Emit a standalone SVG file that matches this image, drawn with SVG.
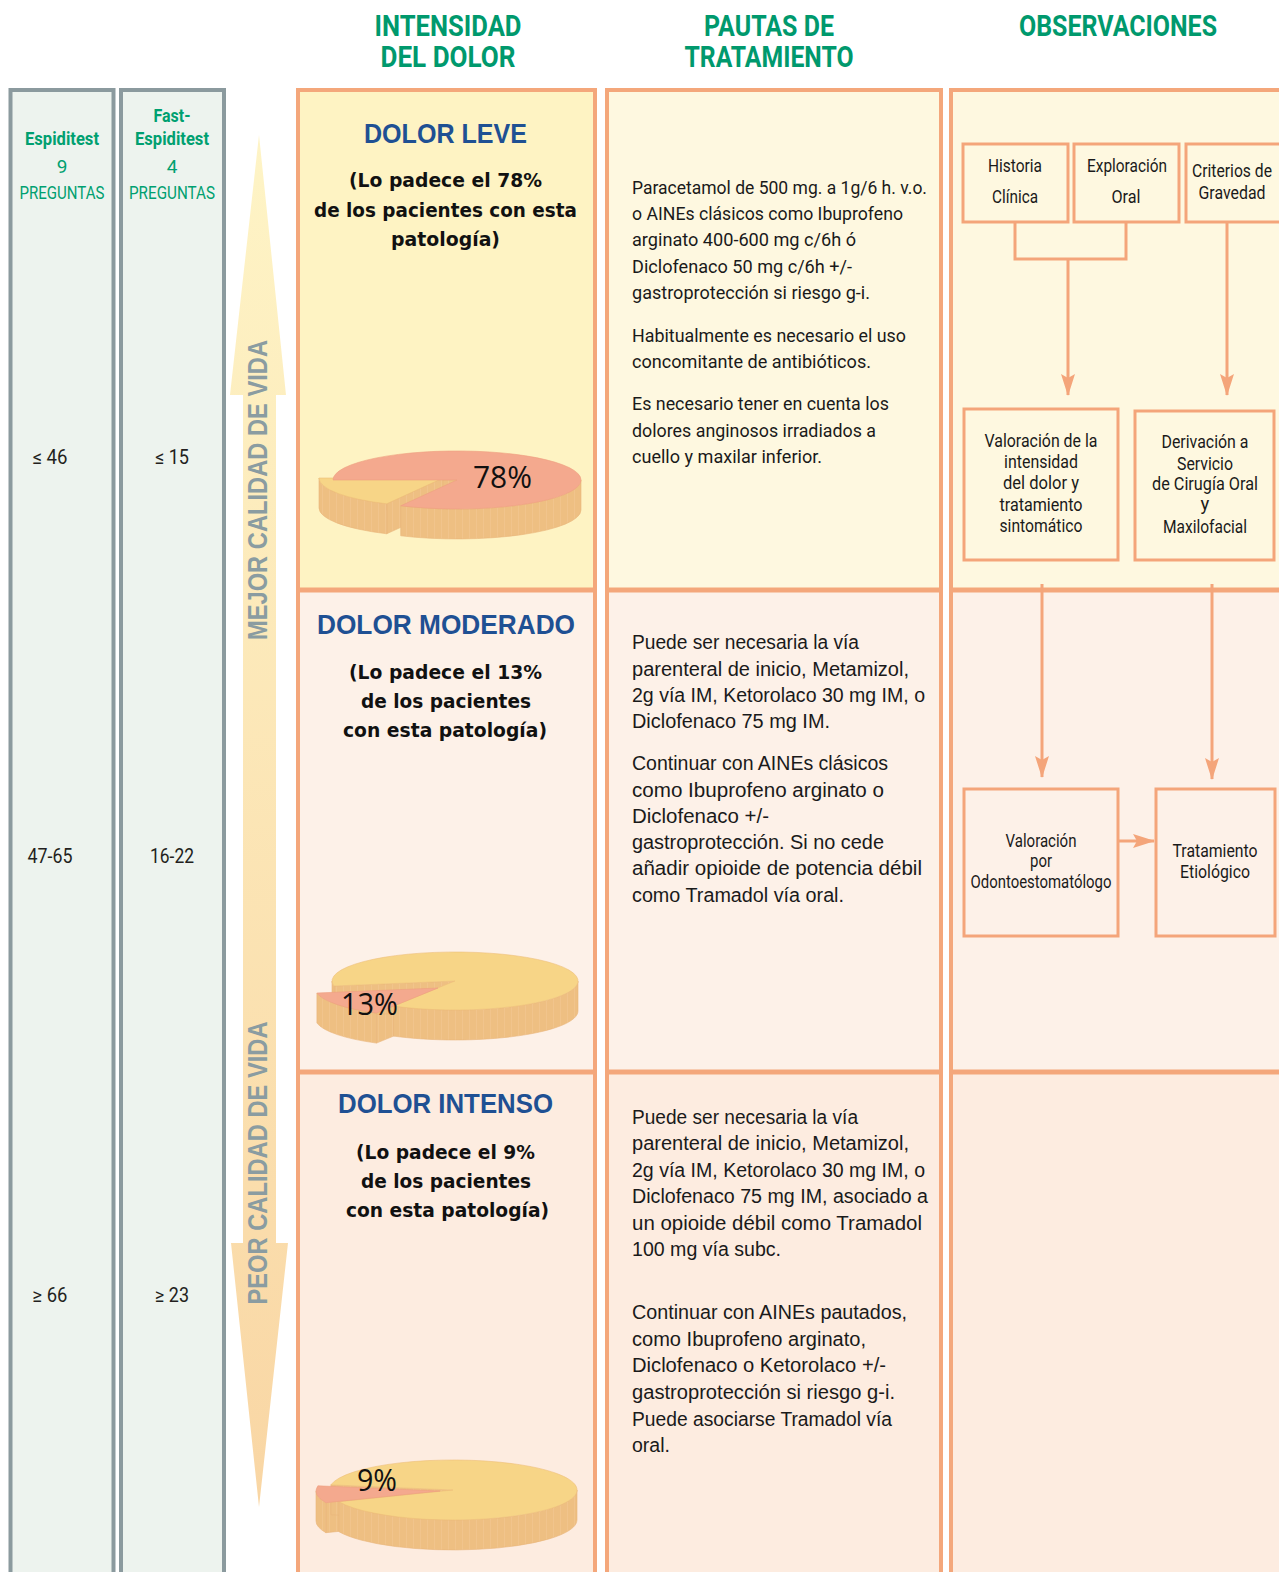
<svg xmlns="http://www.w3.org/2000/svg" width="1279" height="1572" viewBox="0 0 1279 1572">
  <defs>
    <linearGradient id="qolGrad" x1="0" y1="0" x2="0" y2="1">
      <stop offset="0" stop-color="#fef4c6"/>
      <stop offset="1" stop-color="#f9d6a4"/>
    </linearGradient>
    <pattern id="sideStripes" patternUnits="userSpaceOnUse" width="7" height="10">
      <rect width="7" height="10" fill="#eebf82"/>
      <rect x="0" width="1" height="10" fill="#f1c48c"/>
    </pattern>
    <marker id="head" viewBox="0 0 22 14" refX="21" refY="7" markerWidth="22" markerHeight="14" markerUnits="userSpaceOnUse" orient="auto">
      <path d="M0,0 L22,7 L0,14 L4,7 Z" fill="#f4a57a"/>
    </marker>
    <style>
      .hdr { font-family: Roboto, "Liberation Sans", sans-serif; font-weight: bold; font-size: 29px; fill: #00996d; text-anchor: middle; }
      .lc { font-family: Roboto, "Liberation Sans", sans-serif; font-size: 19px; fill: #00a070; text-anchor: middle; }
      .lcb { font-weight: bold; }
      .val { font-family: Roboto, "Liberation Sans", sans-serif; font-size: 20px; fill: #231f20; text-anchor: middle; }
      .qol { font-family: "Liberation Sans", Arial, sans-serif; font-weight: bold; font-size: 27px; fill: #8a9ca1; text-anchor: middle; }
      .ttl { font-family: "Liberation Sans", Arial, sans-serif; font-weight: bold; font-size: 28px; fill: #1f5093; text-anchor: middle; }
      .sub { font-family: "DejaVu Sans", Verdana, sans-serif; font-weight: bold; font-size: 19px; fill: #111111; text-anchor: middle; }
      .p1 { font-family: Roboto, "Liberation Sans", sans-serif; font-size: 19px; fill: #1a1a1a; }
      .p2 { font-family: "Liberation Sans", Arial, sans-serif; font-size: 20px; fill: #1a1a1a; }
      .obs { font-family: Roboto, "Liberation Sans", sans-serif; font-size: 19px; fill: #1a1a1a; text-anchor: middle; }
      .obs2 { font-family: Roboto, "Liberation Sans", sans-serif; font-size: 18.5px; fill: #1a1a1a; text-anchor: middle; }
      .pct { font-family: "Open Sans", "Liberation Sans", sans-serif; font-size: 31px; fill: #111111; }
      .grey { fill: #edf3ee; stroke: #8b9a9e; stroke-width: 4; }
      .col { fill: none; stroke: #f4a77b; stroke-width: 4; }
      .div { stroke: #f4a77b; stroke-width: 5; }
      .box { fill: none; stroke: #f4a57a; stroke-width: 3; }
      .link { fill: none; stroke: #f4a57a; stroke-width: 3; }
      .side { fill: url(#sideStripes); stroke: #e9b67a; stroke-width: 0.6; }
      .pink { fill: #f4a98e; stroke: #eea080; stroke-width: 0.6; }
      .yel { fill: #f7d587; stroke: #eebf7a; stroke-width: 0.6; }
    </style>
  </defs>

  <rect width="1279" height="1572" fill="#ffffff"/>

  <!-- column headings -->
  <g id="headings">
    <text class="hdr" x="448" y="36" textLength="147" lengthAdjust="spacingAndGlyphs">INTENSIDAD</text>
    <text class="hdr" x="448" y="67" textLength="135" lengthAdjust="spacingAndGlyphs">DEL DOLOR</text>
    <text class="hdr" x="769" y="36" textLength="130" lengthAdjust="spacingAndGlyphs">PAUTAS DE</text>
    <text class="hdr" x="769" y="67" textLength="169" lengthAdjust="spacingAndGlyphs">TRATAMIENTO</text>
    <text class="hdr" x="1118" y="36" textLength="198" lengthAdjust="spacingAndGlyphs">OBSERVACIONES</text>
  </g>

  <!-- questionnaire score columns -->
  <g id="espiditest">
    <rect class="grey" x="10.5" y="90" width="103" height="1500"/>
    <text class="lc lcb" x="62" y="145" textLength="74" lengthAdjust="spacingAndGlyphs">Espiditest</text>
    <text class="lc" x="62" y="173">9</text>
    <text class="lc" x="62" y="199" textLength="85" lengthAdjust="spacingAndGlyphs">PREGUNTAS</text>
    <text class="val" x="50" y="464" textLength="35" lengthAdjust="spacingAndGlyphs">≤ 46</text>
    <text class="val" x="50" y="863" textLength="45" lengthAdjust="spacingAndGlyphs">47-65</text>
    <text class="val" x="50" y="1302" textLength="35" lengthAdjust="spacingAndGlyphs">≥ 66</text>
  </g>
  <g id="fast-espiditest">
    <rect class="grey" x="121" y="90" width="103" height="1500"/>
    <text class="lc lcb" x="172" y="122" textLength="37" lengthAdjust="spacingAndGlyphs">Fast-</text>
    <text class="lc lcb" x="172" y="145" textLength="74" lengthAdjust="spacingAndGlyphs">Espiditest</text>
    <text class="lc" x="172" y="173">4</text>
    <text class="lc" x="172" y="199" textLength="86" lengthAdjust="spacingAndGlyphs">PREGUNTAS</text>
    <text class="val" x="172" y="464" textLength="34" lengthAdjust="spacingAndGlyphs">≤ 15</text>
    <text class="val" x="172" y="863" textLength="44" lengthAdjust="spacingAndGlyphs">16-22</text>
    <text class="val" x="172" y="1302" textLength="34" lengthAdjust="spacingAndGlyphs">≥ 23</text>
  </g>

  <!-- quality of life double arrow -->
  <g id="quality-arrow">
    <polygon points="259,135 286,395 276,395 276,1243 288,1243 259,1507 231,1243 243,1243 243,395 230,395" fill="url(#qolGrad)"/>
    <text class="qol" transform="translate(267,490) rotate(-90)" textLength="300" lengthAdjust="spacingAndGlyphs">MEJOR CALIDAD DE VIDA</text>
    <text class="qol" transform="translate(267,1163) rotate(-90)" textLength="283" lengthAdjust="spacingAndGlyphs">PEOR CALIDAD DE VIDA</text>
  </g>

  <!-- table backgrounds -->
  <g id="table">
    <rect x="298" y="90" width="297" height="500" fill="#fef3c3"/>
    <rect x="607" y="90" width="334" height="500" fill="#fef8e0"/>
    <rect x="951" y="90" width="330" height="500" fill="#fef8e0"/>
    <rect x="298" y="590" width="297" height="482" fill="#fdf1e8"/>
    <rect x="607" y="590" width="334" height="482" fill="#fdf1e8"/>
    <rect x="951" y="590" width="330" height="482" fill="#fdf1e8"/>
    <rect x="298" y="1072" width="297" height="520" fill="#fdece0"/>
    <rect x="607" y="1072" width="334" height="520" fill="#fdece0"/>
    <rect x="951" y="1072" width="330" height="520" fill="#fdece0"/>
    <rect class="col" x="298" y="90" width="297" height="1500"/>
    <rect class="col" x="607" y="90" width="334" height="1500"/>
    <rect class="col" x="951" y="90" width="340" height="1500"/>
    <line class="div" x1="298" y1="590" x2="595" y2="590"/>
    <line class="div" x1="607" y1="590" x2="941" y2="590"/>
    <line class="div" x1="951" y1="590" x2="1279" y2="590"/>
    <line class="div" x1="298" y1="1072" x2="595" y2="1072"/>
    <line class="div" x1="607" y1="1072" x2="941" y2="1072"/>
    <line class="div" x1="951" y1="1072" x2="1279" y2="1072"/>
  </g>

  <!-- mild pain -->
  <g id="dolor-leve">
    <text class="ttl" x="445.5" y="143" textLength="163" lengthAdjust="spacingAndGlyphs">DOLOR LEVE</text>
    <text class="sub" x="445.5" y="187" textLength="193" lengthAdjust="spacingAndGlyphs">(Lo padece el 78%</text>
    <text class="sub" x="445.5" y="217" textLength="263" lengthAdjust="spacingAndGlyphs">de los pacientes con esta</text>
    <text class="sub" x="445.5" y="246" textLength="109" lengthAdjust="spacingAndGlyphs">patología)</text>
    <g id="pie-78">
      <path class="side" d="M333,480 L457,480 L457,510 L333,510 Z"/>
      <path class="side" d="M443,478 L386.7,503.8 L386.7,533.8 L443,508 Z"/>
      <path class="side" d="M386.7,503.8 A124,29 0 0 1 319,478 L319,508 A124,29 0 0 0 386.7,533.8 Z"/>
      <path class="yel" d="M443,478 L386.7,503.8 A124,29 0 0 1 319,478 Z"/>
      <path class="side" d="M581,480 A124,29 0 0 1 400.7,505.8 L400.7,535.8 A124,29 0 0 0 581,510 Z"/>
      <path class="pink" d="M457,480 L333,480 A124,29 0 1 1 400.7,505.8 Z"/>
      <text class="pct" x="473" y="488" textLength="59" lengthAdjust="spacingAndGlyphs">78%</text>
    </g>
  </g>
  <g id="pautas-leve">
    <text class="p1" x="632" y="194" textLength="295" lengthAdjust="spacingAndGlyphs">Paracetamol de 500 mg. a 1g/6 h. v.o.</text>
    <text class="p1" x="632" y="220" textLength="271" lengthAdjust="spacingAndGlyphs">o AINEs clásicos como Ibuprofeno</text>
    <text class="p1" x="632" y="246" textLength="224" lengthAdjust="spacingAndGlyphs">arginato 400-600 mg c/6h ó</text>
    <text class="p1" x="632" y="273" textLength="220" lengthAdjust="spacingAndGlyphs">Diclofenaco 50 mg c/6h +/-</text>
    <text class="p1" x="632" y="299" textLength="238" lengthAdjust="spacingAndGlyphs">gastroprotección si riesgo g-i.</text>
    <text class="p1" x="632" y="342" textLength="274" lengthAdjust="spacingAndGlyphs">Habitualmente es necesario el uso</text>
    <text class="p1" x="632" y="368" textLength="239" lengthAdjust="spacingAndGlyphs">concomitante de antibióticos.</text>
    <text class="p1" x="632" y="410" textLength="257" lengthAdjust="spacingAndGlyphs">Es necesario tener en cuenta los</text>
    <text class="p1" x="632" y="437" textLength="244" lengthAdjust="spacingAndGlyphs">dolores anginosos irradiados a</text>
    <text class="p1" x="632" y="463" textLength="190" lengthAdjust="spacingAndGlyphs">cuello y maxilar inferior.</text>
  </g>

  <!-- moderate pain -->
  <g id="dolor-moderado">
    <text class="ttl" x="446" y="634" textLength="258" lengthAdjust="spacingAndGlyphs">DOLOR MODERADO</text>
    <text class="sub" x="445.5" y="679" textLength="193" lengthAdjust="spacingAndGlyphs">(Lo padece el 13%</text>
    <text class="sub" x="446" y="708" textLength="170" lengthAdjust="spacingAndGlyphs">de los pacientes</text>
    <text class="sub" x="445" y="737" textLength="204" lengthAdjust="spacingAndGlyphs">con esta patología)</text>
    <g id="pie-13">
      <path class="side" d="M438,988 L376.5,1013.1 L376.5,1043.1 L438,1018 Z"/>
      <path class="side" d="M455,981 L333.9,986 L333.9,1016 L455,1011 Z"/>
      <path class="side" d="M333.9,986 A123,29 0 0 1 332,981 L332,1011 A123,29 0 0 0 333.9,1016 Z"/>
      <path class="side" d="M578,981 A123,29 0 0 1 393.5,1006.1 L393.5,1036.1 A123,29 0 0 0 578,1011 Z"/>
      <path class="yel" d="M455,981 L333.9,986 A123,29 0 1 1 393.5,1006.1 Z"/>
      <path class="side" d="M376.5,1013.1 A123,29 0 0 1 316.9,993 L316.9,1023 A123,29 0 0 0 376.5,1043.1 Z"/>
      <path class="pink" d="M438,988 L376.5,1013.1 A123,29 0 0 1 316.9,993 Z"/>
      <text class="pct" x="341" y="1015" textLength="57" lengthAdjust="spacingAndGlyphs">13%</text>
    </g>
  </g>
  <g id="pautas-moderado">
    <text class="p2" x="632" y="649" textLength="227" lengthAdjust="spacingAndGlyphs">Puede ser necesaria la vía</text>
    <text class="p2" x="632" y="676" textLength="277" lengthAdjust="spacingAndGlyphs">parenteral de inicio, Metamizol,</text>
    <text class="p2" x="632" y="702" textLength="293" lengthAdjust="spacingAndGlyphs">2g vía IM, Ketorolaco 30 mg IM, o</text>
    <text class="p2" x="632" y="728" textLength="198" lengthAdjust="spacingAndGlyphs">Diclofenaco 75 mg IM.</text>
    <text class="p2" x="632" y="770" textLength="256" lengthAdjust="spacingAndGlyphs">Continuar con AINEs clásicos</text>
    <text class="p2" x="632" y="797" textLength="252" lengthAdjust="spacingAndGlyphs">como Ibuprofeno arginato o</text>
    <text class="p2" x="632" y="823" textLength="137" lengthAdjust="spacingAndGlyphs">Diclofenaco +/-</text>
    <text class="p2" x="632" y="849" textLength="252" lengthAdjust="spacingAndGlyphs">gastroprotección. Si no cede</text>
    <text class="p2" x="632" y="875" textLength="290" lengthAdjust="spacingAndGlyphs">añadir opioide de potencia débil</text>
    <text class="p2" x="632" y="902" textLength="212" lengthAdjust="spacingAndGlyphs">como Tramadol vía oral.</text>
  </g>

  <!-- severe pain -->
  <g id="dolor-intenso">
    <text class="ttl" x="445.5" y="1113" textLength="215" lengthAdjust="spacingAndGlyphs">DOLOR INTENSO</text>
    <text class="sub" x="445.5" y="1159" textLength="179" lengthAdjust="spacingAndGlyphs">(Lo padece el 9%</text>
    <text class="sub" x="446" y="1188" textLength="170" lengthAdjust="spacingAndGlyphs">de los pacientes</text>
    <text class="sub" x="447.5" y="1217" textLength="203" lengthAdjust="spacingAndGlyphs">con esta patología)</text>
    <g id="pie-9">
      <path class="side" d="M440,1491 L325.9,1502.7 L325.9,1532.7 L440,1521 Z"/>
      <path class="side" d="M453,1490 L330.9,1484.8 L330.9,1514.8 L453,1520 Z"/>
      <path class="side" d="M577,1490 A124,30 0 0 1 338.9,1501.7 L338.9,1531.7 A124,30 0 0 0 577,1520 Z"/>
      <path class="side" d="M325.9,1502.7 A124,30 0 0 1 316,1491 L316,1521 A124,30 0 0 0 325.9,1532.7 Z"/>
      <path class="yel" d="M453,1490 L330.9,1484.8 A124,30 0 1 1 338.9,1501.7 Z"/>
      <path class="pink" d="M440,1491 L325.9,1502.7 A124,30 0 0 1 317.9,1485.8 Z"/>
      <text class="pct" x="357" y="1491" textLength="40" lengthAdjust="spacingAndGlyphs">9%</text>
    </g>
  </g>
  <g id="pautas-intenso">
    <text class="p2" x="632" y="1124" textLength="226" lengthAdjust="spacingAndGlyphs">Puede ser necesaria la vía</text>
    <text class="p2" x="632" y="1150" textLength="277" lengthAdjust="spacingAndGlyphs">parenteral de inicio, Metamizol,</text>
    <text class="p2" x="632" y="1177" textLength="293" lengthAdjust="spacingAndGlyphs">2g vía IM, Ketorolaco 30 mg IM, o</text>
    <text class="p2" x="632" y="1203" textLength="296" lengthAdjust="spacingAndGlyphs">Diclofenaco 75 mg IM, asociado a</text>
    <text class="p2" x="632" y="1230" textLength="290" lengthAdjust="spacingAndGlyphs">un opioide débil como Tramadol</text>
    <text class="p2" x="632" y="1256" textLength="149" lengthAdjust="spacingAndGlyphs">100 mg vía subc.</text>
    <text class="p2" x="632" y="1319" textLength="275" lengthAdjust="spacingAndGlyphs">Continuar con AINEs pautados,</text>
    <text class="p2" x="632" y="1346" textLength="234" lengthAdjust="spacingAndGlyphs">como Ibuprofeno arginato,</text>
    <text class="p2" x="632" y="1372" textLength="254" lengthAdjust="spacingAndGlyphs">Diclofenaco o Ketorolaco +/-</text>
    <text class="p2" x="632" y="1399" textLength="263" lengthAdjust="spacingAndGlyphs">gastroprotección si riesgo g-i.</text>
    <text class="p2" x="632" y="1426" textLength="260" lengthAdjust="spacingAndGlyphs">Puede asociarse Tramadol vía</text>
    <text class="p2" x="632" y="1452" textLength="38" lengthAdjust="spacingAndGlyphs">oral.</text>
  </g>

  <!-- observation flow -->
  <g id="historia-clinica">
    <rect class="box" x="963" y="144" width="105" height="78"/>
    <text class="obs" x="1015" y="172" textLength="54" lengthAdjust="spacingAndGlyphs">Historia</text>
    <text class="obs" x="1015" y="203" textLength="46" lengthAdjust="spacingAndGlyphs">Clínica</text>
  </g>
  <g id="exploracion-oral">
    <rect class="box" x="1074" y="144" width="105" height="78"/>
    <text class="obs" x="1127" y="172" textLength="80" lengthAdjust="spacingAndGlyphs">Exploración</text>
    <text class="obs" x="1126" y="203" textLength="29" lengthAdjust="spacingAndGlyphs">Oral</text>
  </g>
  <g id="criterios-gravedad">
    <rect class="box" x="1186" y="144" width="110" height="78"/>
    <text class="obs" x="1232" y="177" textLength="80" lengthAdjust="spacingAndGlyphs">Criterios de</text>
    <text class="obs" x="1232" y="199" textLength="67" lengthAdjust="spacingAndGlyphs">Gravedad</text>
  </g>
  <g id="valoracion-intensidad">
    <rect class="box" x="964" y="409" width="154" height="151"/>
    <text class="obs2" x="1041" y="447" textLength="113" lengthAdjust="spacingAndGlyphs">Valoración de la</text>
    <text class="obs2" x="1041" y="468" textLength="74" lengthAdjust="spacingAndGlyphs">intensidad</text>
    <text class="obs2" x="1041" y="489" textLength="76" lengthAdjust="spacingAndGlyphs">del dolor y</text>
    <text class="obs2" x="1041" y="511" textLength="83" lengthAdjust="spacingAndGlyphs">tratamiento</text>
    <text class="obs2" x="1041" y="532" textLength="83" lengthAdjust="spacingAndGlyphs">sintomático</text>
  </g>
  <g id="derivacion-cirugia">
    <rect class="box" x="1135" y="411" width="139" height="149"/>
    <text class="obs2" x="1205" y="448" textLength="87" lengthAdjust="spacingAndGlyphs">Derivación a</text>
    <text class="obs2" x="1205" y="470" textLength="56" lengthAdjust="spacingAndGlyphs">Servicio</text>
    <text class="obs2" x="1205" y="490" textLength="106" lengthAdjust="spacingAndGlyphs">de Cirugía Oral</text>
    <text class="obs2" x="1205" y="510">y</text>
    <text class="obs2" x="1205" y="533" textLength="84" lengthAdjust="spacingAndGlyphs">Maxilofacial</text>
  </g>
  <g id="valoracion-odonto">
    <rect class="box" x="964" y="789" width="154" height="147"/>
    <text class="obs2" x="1041" y="847" textLength="71" lengthAdjust="spacingAndGlyphs">Valoración</text>
    <text class="obs2" x="1041" y="867" textLength="22" lengthAdjust="spacingAndGlyphs">por</text>
    <text class="obs2" x="1041" y="888" textLength="141" lengthAdjust="spacingAndGlyphs">Odontoestomatólogo</text>
  </g>
  <g id="tratamiento-etiologico">
    <rect class="box" x="1156" y="789" width="119" height="147"/>
    <text class="obs2" x="1215" y="857" textLength="85" lengthAdjust="spacingAndGlyphs">Tratamiento</text>
    <text class="obs2" x="1215" y="878" textLength="70" lengthAdjust="spacingAndGlyphs">Etiológico</text>
  </g>

  <g id="connectors">
    <polyline class="link" points="1015,222 1015,259 1126,259 1126,222"/>
    <line class="link" x1="1068" y1="259" x2="1068" y2="395" marker-end="url(#head)"/>
    <line class="link" x1="1227" y1="222" x2="1227" y2="395" marker-end="url(#head)"/>
    <line class="link" x1="1042" y1="584" x2="1042" y2="777" marker-end="url(#head)"/>
    <line class="link" x1="1212" y1="584" x2="1212" y2="779" marker-end="url(#head)"/>
    <line class="link" x1="1118" y1="841" x2="1154" y2="841" marker-end="url(#head)"/>
  </g>
</svg>
